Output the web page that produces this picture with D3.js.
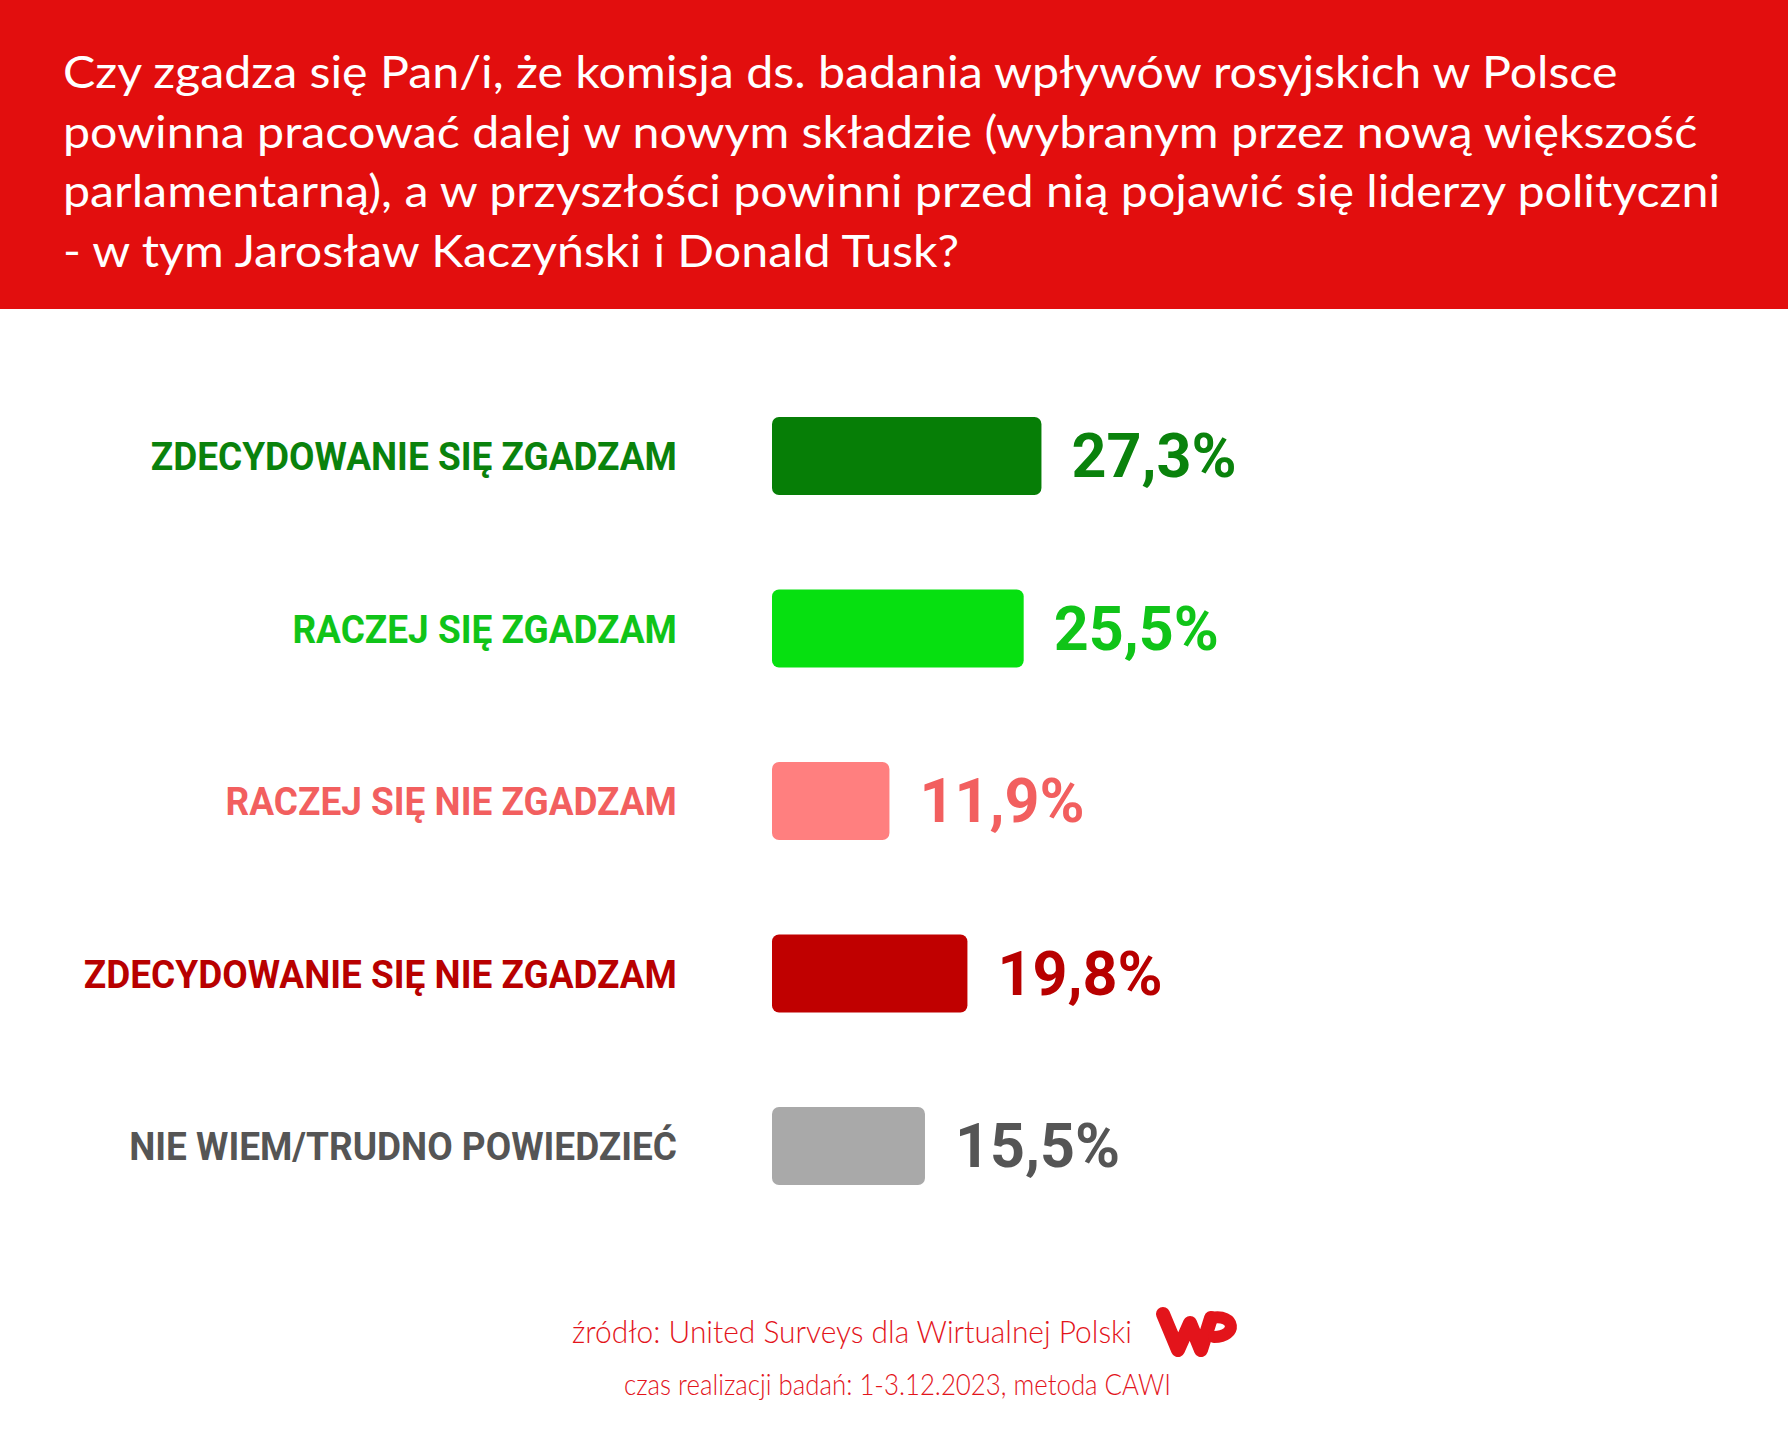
<!DOCTYPE html>
<html>
<head>
<meta charset="utf-8">
<script src="https://cdn.jsdelivr.net/npm/d3@7"></script>
<style>
  body { margin: 0; background: #fff; }
</style>
</head>
<body>
<div class="chart"></div>
<script>
const titleLines = [
  'Czy zgadza się Pan/i, że komisja ds. badania wpływów rosyjskich w Polsce',
  'powinna pracować dalej w nowym składzie (wybranym przez nową większość',
  'parlamentarną), a w przyszłości powinni przed nią pojawić się liderzy polityczni',
  '- w tym Jarosław Kaczyński i Donald Tusk?'
]
const categories = [
  'ZDECYDOWANIE SIĘ ZGADZAM',
  'RACZEJ SIĘ ZGADZAM',
  'RACZEJ SIĘ NIE ZGADZAM',
  'ZDECYDOWANIE SIĘ NIE ZGADZAM',
  'NIE WIEM/TRUDNO POWIEDZIEĆ'
]
const values = [27.3, 25.5, 11.9, 19.8, 15.5]
const barColors = ['#067e06', '#06e010', '#ff7f7f', '#c00000', '#a9a9a9']
const textColors = ['#0a820c', '#10c418', '#f25f5f', '#b80000', '#555555']
const sourceLines = [
  'źródło: United Surveys dla Wirtualnej Polski',
  'czas realizacji badań: 1-3.12.2023, metoda CAWI'
]

const width = 1788
const height = 1440
const red = '#e20e0e'

const svg = d3.select('.chart').append('svg')
  .attr('width', width)
  .attr('height', height)

// header band
svg.append('rect')
  .attr('width', width)
  .attr('height', 309)
  .attr('fill', red)

const title = svg.append('g')
  .style('font-family', 'Lato, sans-serif')
  .style('font-size', '44px')
  .attr('fill', '#fff')

title.selectAll('text')
  .data(titleLines)
  .enter()
  .append('text')
  .attr('x', 63)
  .attr('y', (d, i) => 88 + i * 59.7)
  .text(d => d)

// squeeze/stretch so the longest line ends where the original does
const longest = d3.max(title.selectAll('text').nodes(), n => n.getComputedTextLength())
const titleFactor = 1657 / longest
title.selectAll('text').each(function () {
  const len = this.getComputedTextLength()
  d3.select(this)
    .attr('textLength', len * titleFactor)
    .attr('lengthAdjust', 'spacingAndGlyphs')
})

// bars
const left = 772
const x = d3.scaleLinear()
  .domain([0, 100])
  .range([0, 987])

const y = d3.scaleBand()
  .domain(categories)
  .range([369.75, 1232.25])
  .paddingInner(0.548)
  .paddingOuter(0.274)

const chart = svg.append('g')
  .style('font-family', 'Roboto, sans-serif')
  .style('font-weight', 700)

const rows = categories.map((c, i) => ({ cat: c, value: values[i], i }))

chart.selectAll('.bar')
  .data(rows)
  .enter()
  .append('rect')
  .attr('class', 'bar')
  .attr('x', left)
  .attr('y', d => y(d.cat))
  .attr('width', d => x(d.value))
  .attr('height', y.bandwidth())
  .attr('rx', 7)
  .attr('ry', 7)
  .attr('fill', d => barColors[d.i])

chart.selectAll('.label')
  .data(rows)
  .enter()
  .append('text')
  .attr('class', 'label')
  .attr('x', 677)
  .attr('y', d => y(d.cat) + y.bandwidth() / 2 + 14)
  .attr('text-anchor', 'end')
  .style('font-size', '39px')
  .attr('fill', d => textColors[d.i])
  .text(d => d.cat)
  .each(function () {
    // original labels are a touch narrower than Roboto Bold
    d3.select(this)
      .attr('textLength', this.getComputedTextLength() * 0.948)
      .attr('lengthAdjust', 'spacingAndGlyphs')
  })

chart.selectAll('.value')
  .data(rows)
  .enter()
  .append('text')
  .attr('class', 'value')
  .attr('x', d => left + x(d.value) + 30)
  .attr('y', d => y(d.cat) + y.bandwidth() / 2 + 21)
  .style('font-size', '61px')
  .attr('fill', d => textColors[d.i])
  .text(d => d3.format('.1f')(d.value).replace('.', ',') + '%')

// footer
const foot = svg.append('g')
  .style('font-family', 'Lato, sans-serif')
  .style('font-weight', 300)
  .attr('fill', '#e3141b')

foot.append('text')
  .attr('x', 572)
  .attr('y', 1343)
  .style('font-size', '31px')
  .text(sourceLines[0])
  .attr('textLength', 560)
  .attr('lengthAdjust', 'spacingAndGlyphs')

foot.append('text')
  .attr('x', 624)
  .attr('y', 1395)
  .style('font-size', '29px')
  .text(sourceLines[1])
  .attr('textLength', 547)
  .attr('lengthAdjust', 'spacingAndGlyphs')

// WP logo, rough
const logo = svg.append('g')
  .attr('fill', 'none')
  .attr('stroke', '#e3141b')
  .attr('stroke-linecap', 'round')
  .attr('stroke-linejoin', 'round')

logo.append('path')
  .attr('d', 'M1163,1314 L1178,1350 L1190,1323 L1201,1350 L1211,1318')
  .attr('stroke-width', 14)

logo.append('path')
  .attr('d', 'M1211,1318 C1236,1313 1238,1337 1214,1337')
  .attr('stroke-width', 12)
</script>
</body>
</html>
